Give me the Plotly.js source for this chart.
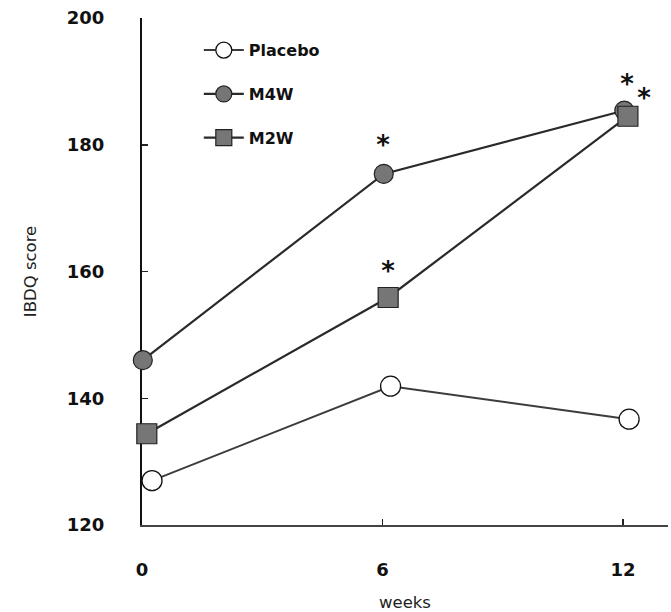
<!DOCTYPE html>
<html>
<head>
<meta charset="utf-8">
<script src="https://cdn.plot.ly/plotly-3.0.1.min.js"></script>
<style>html,body{margin:0;padding:0;background:#fff;}#chart{width:671px;height:612px;}</style>
</head>
<body>
<div id="chart"></div>
<script>
// Data
const seriesNames = ["Placebo", "M4W", "M2W"];
const weeksPlacebo = [0.25, 6.2, 12.15];
const placebo = [127.0, 141.9, 136.7];
const weeksM4W = [0.02, 6.03, 12.03];
const m4w = [146.0, 175.4, 185.4];
const weeksM2W = [0.12, 6.14, 12.12];
const m2w = [134.4, 155.9, 184.5];
// significance markers
const starWeeks = [6.01, 6.14, 12.1, 12.52];
const starScores = [179.6, 159.7, 189.2, 187.0];
const starText = ["*", "*", "*", "*"];
const xTicks = [0, 6, 12];
const yTicks = [120, 140, 160, 180, 200];

const lineCol = "#2a2a2a";
const fillGray = "#767676";

const traces = [
  {
    x: weeksPlacebo, y: placebo, name: seriesNames[0], mode: "lines+markers",
    legendgroup: "a", cliponaxis: false,
    line: {color: "#3c3c3c", width: 2},
    marker: {symbol: "circle", size: 20, color: "#ffffff", line: {color: "#111111", width: 1.3}}
  },
  {
    x: weeksM4W, y: m4w, name: seriesNames[1], mode: "lines+markers",
    legendgroup: "b", cliponaxis: false,
    line: {color: lineCol, width: 2.2},
    marker: {symbol: "circle", size: 19, color: fillGray, line: {color: "#222222", width: 1.2}}
  },
  {
    x: weeksM2W, y: m2w, name: seriesNames[2], mode: "lines+markers",
    legendgroup: "c", cliponaxis: false,
    line: {color: lineCol, width: 2.2},
    marker: {symbol: "square", size: 20, color: fillGray, line: {color: "#222222", width: 1.2}}
  },
  {
    x: starWeeks, y: starScores, text: starText, mode: "text", showlegend: false,
    textposition: "middle center", cliponaxis: false,
    textfont: {family: "DejaVu Sans", size: 26, color: "#111111", weight: "bold"},
    hoverinfo: "skip"
  }
];

const tickFont = {family: "DejaVu Sans", size: 18, color: "#111111", weight: "bold"};

const layout = {
  width: 671, height: 612,
  margin: {l: 142, r: 3, t: 18, b: 87},
  paper_bgcolor: "#ffffff", plot_bgcolor: "#ffffff",
  showlegend: true,
  legend: {
    x: 0.108, y: 0.97, xanchor: "left", yanchor: "top",
    bgcolor: "rgba(0,0,0,0)",
    traceorder: "grouped", tracegroupgap: 20,
    itemwidth: 40,
    font: {family: "DejaVu Sans", size: 16, color: "#111111", weight: "bold"}
  },
  xaxis: {
    range: [0, 13.12], tickvals: xTicks, ticktext: xTicks.map(String),
    ticks: "inside", ticklen: 6, tickwidth: 1.5, tickcolor: "#222222",
    showline: true, linecolor: "#444444", linewidth: 2,
    showgrid: false, zeroline: false, layer: "below traces",
    tickfont: tickFont, ticklabelstandoff: 27,
    title: {text: "weeks", font: {family: "DejaVu Sans", size: 16.5, color: "#222222"}, standoff: 18}
  },
  yaxis: {
    range: [120, 200], tickvals: yTicks, ticktext: yTicks.map(String),
    ticks: "inside", ticklen: 6, tickwidth: 1.5, tickcolor: "#222222",
    showline: true, linecolor: "#111111", linewidth: 2,
    showgrid: false, zeroline: false, layer: "below traces",
    tickfont: tickFont, ticklabelstandoff: 32,
    title: {text: "IBDQ score", font: {family: "DejaVu Sans", size: 16.5, color: "#222222"}, standoff: 26}
  }
};

Plotly.newPlot("chart", traces, layout, {displayModeBar: false, staticPlot: true});
</script>
</body>
</html>
